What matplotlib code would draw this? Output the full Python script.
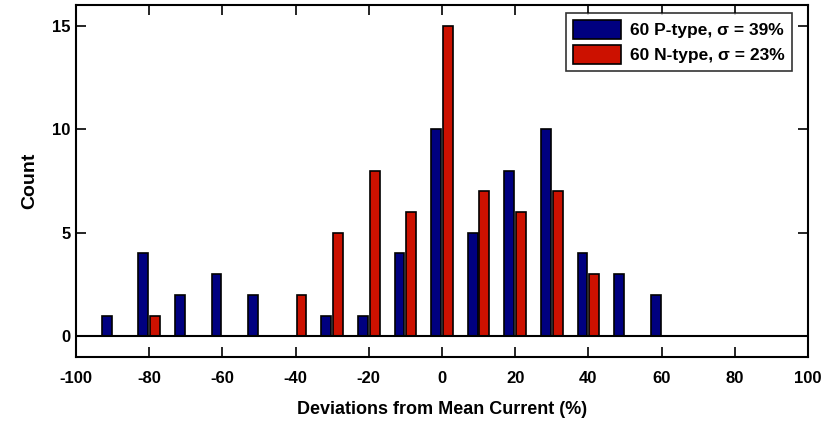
import numpy as np
import matplotlib.pyplot as plt

plt.rcParams['font.family'] = ['Liberation Sans', 'DejaVu Sans']
plt.rcParams['font.weight'] = 'bold'
plt.rcParams['axes.unicode_minus'] = False

# bin centres (% deviation) and counts
bins = [-90, -80, -70, -60, -50, -40, -30, -20, -10, 0, 10, 20, 30, 40, 50, 60]
p_counts = [1, 4, 2, 3, 2, 0, 1, 1, 4, 10, 5, 8, 10, 4, 3, 2]
n_counts = [0, 1, 0, 0, 0, 2, 5, 8, 6, 15, 7, 6, 7, 3, 0, 0]
p_label = '60 P-type, σ = 39%'
n_label = '60 N-type, σ = 23%'

x = np.array(bins, dtype=float)
w = 2.7

fig, ax = plt.subplots(figsize=(8.39, 4.21), dpi=100)
fig.subplots_adjust(left=0.0906, right=0.963, top=0.988, bottom=0.152)

ax.bar(x - 1.6, p_counts, width=w, color='#000080', edgecolor='black', linewidth=1.2, label=p_label)
nx = x[np.array(n_counts) > 0]
nv = [c for c in n_counts if c > 0]
ax.bar(nx + 1.6, nv, width=w, color='#CC1100', edgecolor='black', linewidth=1.2, label=n_label)

ax.axhline(0, color='black', linewidth=1.5)
ax.set_xlim(-100, 100)
ax.set_ylim(-1, 16)
ax.set_xticks(range(-100, 101, 20))
ax.set_yticks([0, 5, 10, 15])
ax.tick_params(direction='in', top=True, right=True, length=7, width=1.2, labelsize=12)
ax.tick_params(axis='x', pad=10)
ax.tick_params(axis='y', pad=4)
for s in ax.spines.values():
    s.set_linewidth(1.5)

ax.set_xlabel('Deviations from Mean Current (%)', fontsize=13, fontweight='bold', labelpad=11)
ax.set_ylabel('Count', fontsize=14, fontweight='bold', labelpad=10)

leg = ax.legend(loc='upper right', bbox_to_anchor=(0.978, 0.977), borderaxespad=0,
                fontsize=12.5, fancybox=False, edgecolor='black',
                handlelength=2.8, handleheight=1.3, handletextpad=0.5,
                borderpad=0.4, labelspacing=0.35)
leg.get_frame().set_linewidth(1.2)

plt.savefig('out.png')
